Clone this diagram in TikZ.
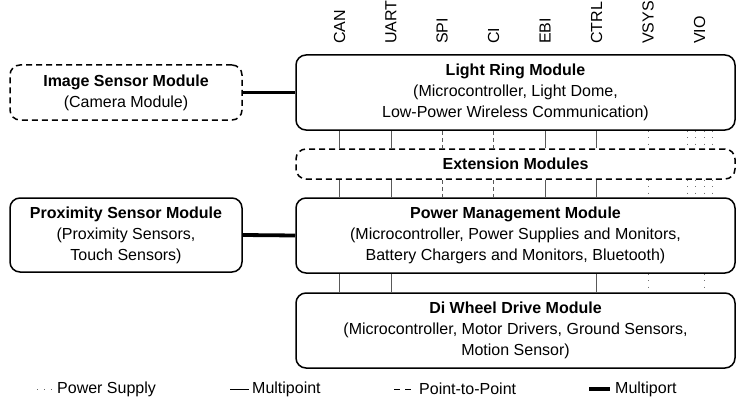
\documentclass[tikz,border=0pt]{standalone}
\usepackage{fontspec}
\setmainfont{Liberation Sans}
\begin{document}
\begin{tikzpicture}[x=1pt,y=-1pt,
  every node/.style={font=\fontsize{16}{21}\selectfont},
  modbox/.style={draw, line width=1.5pt, rounded corners=10pt, align=center,
    inner sep=0pt, minimum width=439pt},
  sidebox/.style={modbox, minimum width=232pt},
  optional/.style={dash pattern=on 6pt off 4pt},
  bus/.style={line width=0.8pt, black!65},
  ptp/.style={bus, dash pattern=on 4pt off 3pt},
  pwr/.style={bus, black!55, dash pattern=on 0.9pt off 5.5pt},
  mport/.style={line width=3.8pt},
  sig/.style={rotate=90, anchor=west, inner sep=0pt},
  legtext/.style={anchor=west, inner sep=0pt}]
\useasboundingbox (0,0) rectangle (736,404);

% main module stack
\node[modbox, minimum height=75pt] (lr) at (515.5,92.5)
  {\textbf{Light Ring Module}\\(Microcontroller, Light Dome,\\Low-Power Wireless Communication)};
\node[modbox, optional, minimum height=30pt] (ext) at (515.5,164)
  {\textbf{Extension Modules}};
\node[modbox, minimum height=75pt] (pm) at (515.5,235.5)
  {\textbf{Power Management Module}\\(Microcontroller, Power Supplies and Monitors,\\Battery Chargers and Monitors, Bluetooth)};
\node[modbox, minimum height=75pt] (dw) at (515.5,330.5)
  {\textbf{Di Wheel Drive Module}\\(Microcontroller, Motor Drivers, Ground Sensors,\\Motion Sensor)};

% side modules
\node[sidebox, optional, minimum height=55pt] (img) at (126,92.5)
  {\textbf{Image Sensor Module}\\(Camera Module)};
\node[sidebox, minimum height=74pt] (prox) at (126,235)
  {\textbf{Proximity Sensor Module}\\(Proximity Sensors,\\Touch Sensors)};

% multiport links
\draw[mport] (img.east) -- (lr.west);
\draw[mport] (prox.east) -- (pm.west);

% bus columns and their labels
\foreach \name/\x in {can/339.5, uart/391, spi/442, ci/493.5, ebi/545,
                      ctrl/596.5, vsys/648, vio/699.5}
  \coordinate (c\name) at (\x,0);
\foreach \name/\x in {vioa/687, viob/695.5, vioc/704, viod/712.5}
  \coordinate (c\name) at (\x,0);

\foreach \name/\txt in {can/CAN, uart/UART, spi/SPI, ci/CI, ebi/EBI,
                        ctrl/CTRL, vsys/VSYS, vio/VIO}
  \node[sig] (l\name) at (c\name |- 0,44) {\txt};

% bus lines: light ring -> extension -> power management
\foreach \a/\b in {lr/ext, ext/pm}{
  \foreach \c in {can, uart, ebi, ctrl}
    \draw[bus] (\a.south -| c\c) -- (\b.north -| c\c);
  \foreach \c in {spi, ci}
    \draw[ptp] (\a.south -| c\c) -- (\b.north -| c\c);
  \foreach \c in {vsys, vioa, viob, vioc, viod}
    \draw[pwr] (\a.south -| c\c) -- (\b.north -| c\c);
}
% power management -> wheel drive
\foreach \c in {can, uart, ctrl}
  \draw[bus] (pm.south -| c\c) -- (dw.north -| c\c);
\foreach \c in {vsys, vioc}
  \draw[pwr] (pm.south -| c\c) -- (dw.north -| c\c);

% legend
\node[legtext] (lgpwr) at (57,389) {Power Supply};
\node[legtext] (lgmp) at (252,389) {Multipoint};
\node[legtext] (lgptp) at (419,389) {Point-to-Point};
\node[legtext] (lgmport) at (615,389) {Multiport};
\coordinate (spwr) at (37,389);
\coordinate (smp) at (230,389);
\coordinate (sptp) at (394,389);
\coordinate (smport) at (589,389);
\draw[black!60, line width=0.9pt, dash pattern=on 0.9pt off 6pt] (spwr) -- ([xshift=-3pt]lgpwr.west);
\draw[line width=0.8pt] (smp) -- ([xshift=-3pt]lgmp.west);
\draw[line width=0.8pt, dash pattern=on 6pt off 5pt] (sptp) -- ([xshift=-4pt]lgptp.west);
\draw[line width=4pt] (smport) -- ([xshift=-5pt]lgmport.west);
\end{tikzpicture}
\end{document}
